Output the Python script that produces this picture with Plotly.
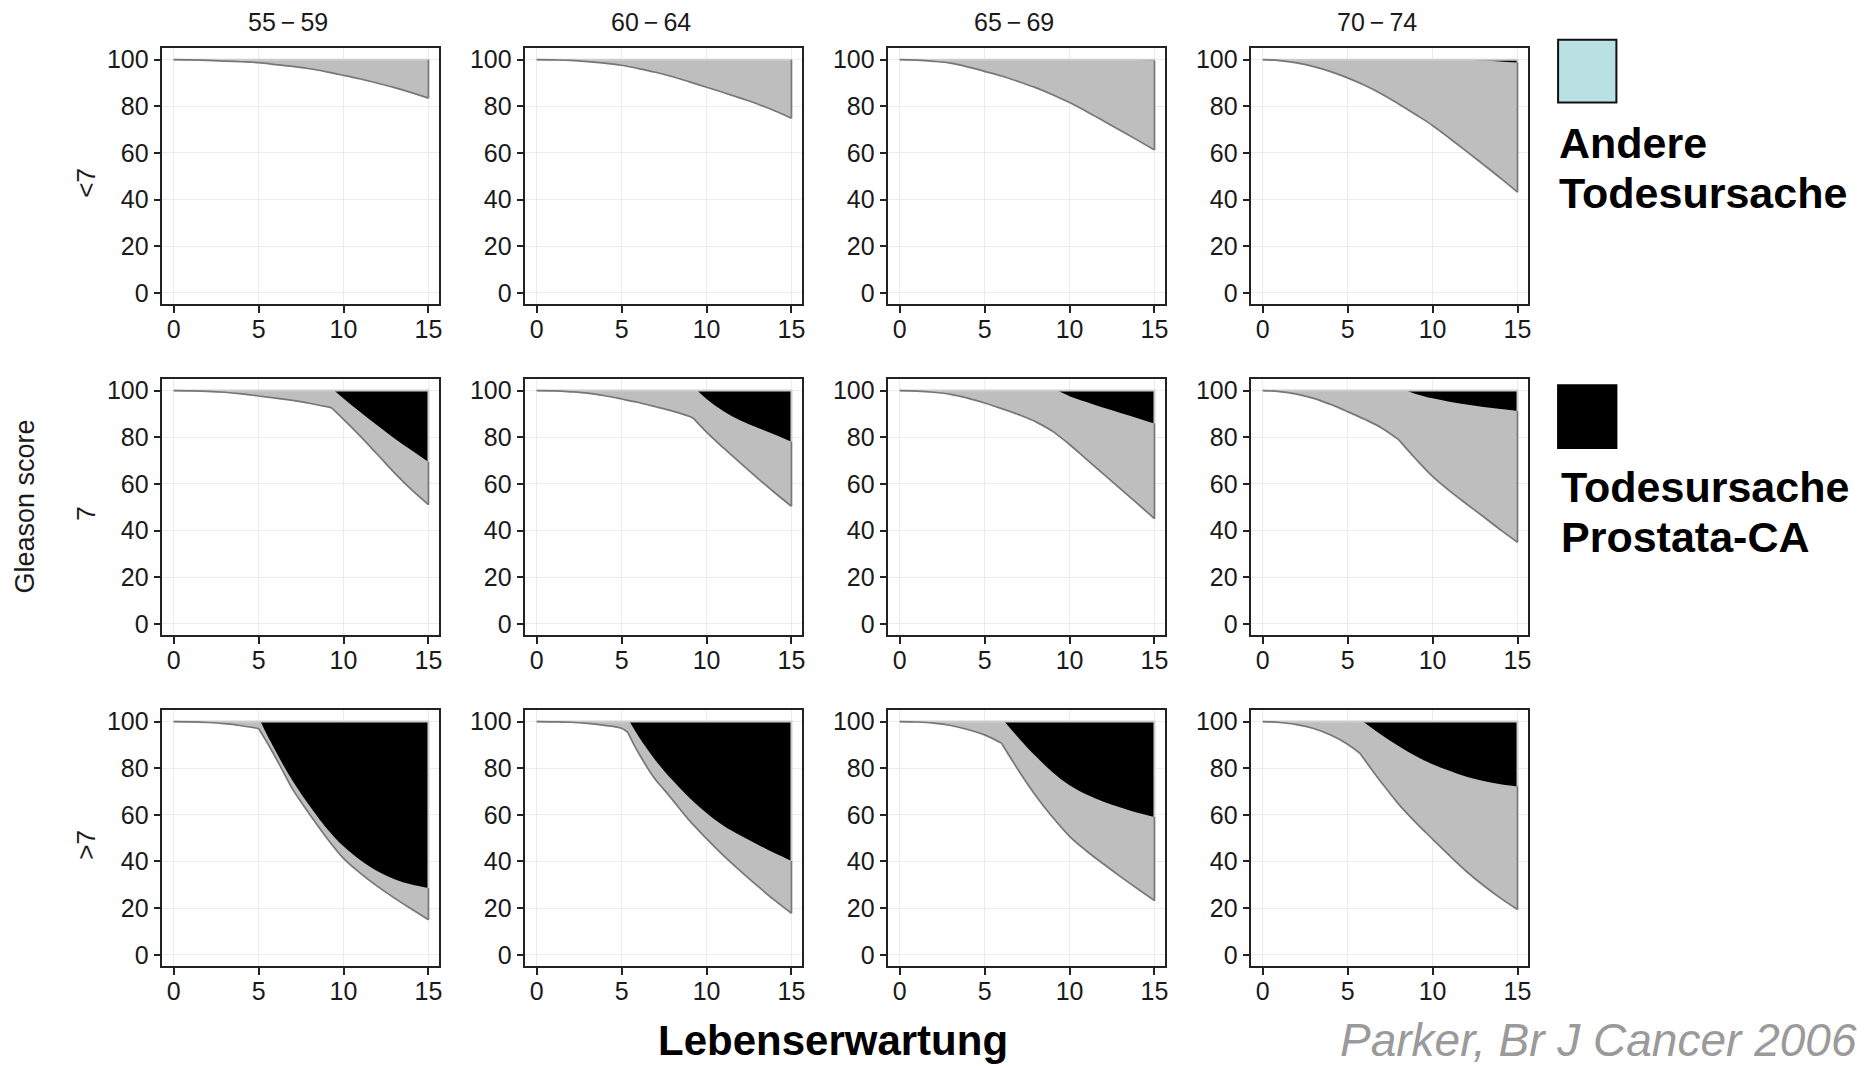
import plotly.graph_objects as go

# ---------------- data ----------------
AGE_GROUPS = ["55\u2009\u2212\u200959", "60\u2009\u2212\u200964", "65\u2009\u2212\u200969", "70\u2009\u2212\u200974"]
GLEASON_GROUPS = ["<7", "7", ">7"]
X_TICKS = [0, 5, 10, 15]
Y_TICKS = [0, 20, 40, 60, 80, 100]
LEGEND_LABELS = ["Andere", "Todesursache", "Todesursache", "Prostata-CA"]
X_TITLE = "Lebenserwartung"
Y_TITLE = "Gleason score"
SOURCE = "Parker, Br J Cancer 2006"

YEARS = [0, 1, 2, 3, 4, 5, 6, 7, 8, 9, 10, 11, 12, 13, 14, 15]

# Gleason <7 : overall survival (%), kink time, prostate-cancer boundary
LT7_55_T = YEARS
LT7_55_S = [100, 99.9, 99.7, 99.4, 99.1, 98.7, 97.9, 97.1, 96.1, 94.8, 93.3, 91.7, 89.9, 88.0, 85.9, 83.5]
LT7_55_K = None
LT7_55_CT = []
LT7_55_C = []

LT7_60_T = YEARS
LT7_60_S = [100, 99.9, 99.7, 99.2, 98.5, 97.6, 96.2, 94.6, 92.7, 90.5, 88.2, 85.9, 83.5, 81.0, 78.1, 74.9]
LT7_60_K = None
LT7_60_CT = []
LT7_60_C = []

LT7_65_T = YEARS
LT7_65_S = [100, 99.8, 99.3, 98.5, 96.9, 95.0, 93.0, 90.6, 88.0, 85.0, 81.6, 77.8, 73.7, 69.6, 65.5, 61.3]
LT7_65_K = None
LT7_65_CT = [13.5, 15]
LT7_65_C = [100, 99.5]

LT7_70_T = YEARS
LT7_70_S = [100, 99.6, 98.6, 97.0, 94.9, 92.2, 89.0, 85.3, 81.0, 76.5, 71.8, 66.3, 60.7, 55.0, 49.2, 43.2]
LT7_70_K = None
LT7_70_CT = [12, 13, 14, 15]
LT7_70_C = [100, 99.6, 99.2, 98.8]

# Gleason 7
G7_55_T = [0, 1, 2, 3, 4, 5, 6, 7, 8, 9, 9.3, 10, 11, 12, 13, 14, 15]
G7_55_S = [100, 99.9, 99.7, 99.3, 98.6, 97.7, 96.8, 95.8, 94.6, 93.1, 92.6, 87.7, 80.4, 72.6, 64.7, 57.5, 51.1]
G7_55_K = 9.3
G7_55_CT = [9.45, 10, 11, 12, 13, 14, 15]
G7_55_C = [100, 96.6, 90.7, 85.0, 79.5, 74.4, 69.4]

G7_60_T = [0, 1, 2, 3, 4, 5, 6, 7, 8, 9, 9.22, 10, 11, 12, 13, 14, 15]
G7_60_S = [100, 99.9, 99.5, 98.9, 97.8, 96.4, 94.9, 93.1, 91.2, 88.9, 88.2, 82.2, 75.4, 68.9, 62.5, 56.3, 50.4]
G7_60_K = 9.22
G7_60_CT = [9.45, 10, 11, 12, 13, 14, 15]
G7_60_C = [100, 96.4, 91.2, 87.2, 84.1, 81.2, 78.1]

G7_65_T = YEARS
G7_65_S = [100, 99.8, 99.3, 98.4, 96.8, 94.7, 92.3, 89.7, 86.7, 82.6, 76.9, 70.5, 64.2, 57.9, 51.5, 45.1]
G7_65_K = 9
G7_65_CT = [9.29, 10, 11, 12, 13, 14, 15]
G7_65_C = [100, 97.6, 95.1, 92.6, 90.4, 88.2, 85.9]

G7_70_T = YEARS
G7_70_S = [100, 99.6, 98.5, 96.7, 94.1, 91.0, 87.7, 84.0, 79.0, 70.8, 63.2, 57.0, 51.4, 45.9, 40.3, 35.0]
G7_70_K = 8
G7_70_CT = [8.45, 9, 10, 11, 12, 13, 14, 15]
G7_70_C = [100, 98.6, 96.7, 95.2, 94.0, 93.0, 92.1, 91.3]

# Gleason >7
GT7_55_T = [0, 1, 2, 3, 4, 5, 5.5, 6, 6.5, 7, 7.5, 8, 9, 10, 11, 12, 13, 14, 15]
GT7_55_S = [100, 99.9, 99.6, 99.1, 98.2, 97.0, 91.0, 84.6, 77.8, 71.0, 65.5, 60.3, 50.2, 41.3, 34.9, 29.3, 24.3, 19.6, 15.0]
GT7_55_K = 5
GT7_55_CT = [5.12, 5.5, 6, 6.5, 7, 7.5, 8, 9, 10, 11, 12, 13, 14, 15]
GT7_55_C = [100, 94.2, 87.4, 80.7, 74.6, 69.0, 63.9, 54.3, 46.5, 40.5, 35.8, 32.4, 30.1, 28.6]

GT7_60_T = [0, 1, 2, 3, 4, 5, 5.37, 6, 7, 7.5, 8, 9, 10, 11, 12, 13, 14, 15]
GT7_60_S = [100, 99.9, 99.7, 99.2, 98.4, 97.1, 95.3, 86.5, 75.0, 70.8, 66.4, 57.5, 49.8, 42.5, 35.9, 29.5, 23.4, 17.8]
GT7_60_K = 5.37
GT7_60_CT = [5.47, 6, 7, 8, 9, 10, 11, 12, 13, 14, 15]
GT7_60_C = [100, 93.6, 83.3, 74.8, 67.2, 60.8, 55.3, 51.1, 47.3, 43.6, 40.2]

GT7_65_T = YEARS
GT7_65_S = [100, 99.8, 99.3, 98.3, 96.6, 94.3, 90.7, 79.0, 68.3, 59.0, 50.8, 44.5, 38.9, 33.5, 28.3, 23.2]
GT7_65_K = 6
GT7_65_CT = [6.16, 7, 8, 9, 10, 11, 12, 13, 14, 15]
GT7_65_C = [100, 93.0, 85.2, 78.3, 72.7, 68.7, 65.6, 63.2, 60.9, 59.1]

GT7_70_T = [0, 1, 2, 3, 4, 5, 5.72, 6, 7, 8, 9, 10, 11, 12, 13, 14, 15]
GT7_70_S = [100, 99.6, 98.7, 97.0, 94.2, 90.3, 86.4, 83.6, 73.8, 64.6, 56.8, 49.6, 42.5, 35.7, 29.7, 24.3, 19.4]
GT7_70_K = 5.72
GT7_70_CT = [5.9, 7, 8, 9, 10, 11, 12, 13, 14, 15]
GT7_70_C = [100, 94.2, 89.5, 85.2, 81.7, 78.9, 76.3, 74.5, 73.1, 72.2]

PANELS = [
    [(LT7_55_T, LT7_55_S, LT7_55_K, LT7_55_CT, LT7_55_C), (LT7_60_T, LT7_60_S, LT7_60_K, LT7_60_CT, LT7_60_C),
     (LT7_65_T, LT7_65_S, LT7_65_K, LT7_65_CT, LT7_65_C), (LT7_70_T, LT7_70_S, LT7_70_K, LT7_70_CT, LT7_70_C)],
    [(G7_55_T, G7_55_S, G7_55_K, G7_55_CT, G7_55_C), (G7_60_T, G7_60_S, G7_60_K, G7_60_CT, G7_60_C),
     (G7_65_T, G7_65_S, G7_65_K, G7_65_CT, G7_65_C), (G7_70_T, G7_70_S, G7_70_K, G7_70_CT, G7_70_C)],
    [(GT7_55_T, GT7_55_S, GT7_55_K, GT7_55_CT, GT7_55_C), (GT7_60_T, GT7_60_S, GT7_60_K, GT7_60_CT, GT7_60_C),
     (GT7_65_T, GT7_65_S, GT7_65_K, GT7_65_CT, GT7_65_C), (GT7_70_T, GT7_70_S, GT7_70_K, GT7_70_CT, GT7_70_C)],
]

# ---------------- layout geometry ----------------
W, H = 1868, 1066
FONT = "Liberation Sans, Arial, Helvetica, sans-serif"
COL_LEFT = [162.7, 526.3, 889.9, 1253.5]
COL_W = 277.0
ROW_TOP = [46.0, 378.5, 711.0]
ROW_H = 257.5
X_RANGE = [-0.66, 15.62]
Y_RANGE = [-4.8, 105.1]

GREY_FILL = "#bebebe"
GREY_LINE = "#777777"
TOP_LINE = "#cdcdcd"


def px(x):
    return x / W


def py(y):
    return 1 - y / H


def segments(T, S, K):
    if K is None:
        return [(list(T), list(S))]
    a = [(t, s) for t, s in zip(T, S) if t <= K]
    b = [(t, s) for t, s in zip(T, S) if t >= K]
    return [([p[0] for p in a], [p[1] for p in a]), ([p[0] for p in b], [p[1] for p in b])]


fig = go.Figure()
layout = {}

for r in range(3):
    for c in range(4):
        n = r * 4 + c + 1
        xa = "x" if n == 1 else f"x{n}"
        ya = "y" if n == 1 else f"y{n}"
        T, S, K, CT, C = PANELS[r][c]
        end_low = C[-1] if C else 100
        segs = segments(T, S, K)

        # grey area underlay (straight polygon, hides seams between smooth pieces)
        fig.add_trace(go.Scatter(
            x=list(T) + [T[-1], T[0]], y=list(S) + [100, 100],
            fill="toself", fillcolor=GREY_FILL, mode="lines",
            line=dict(width=0, color=GREY_FILL), hoverinfo="skip",
            showlegend=False, xaxis=xa, yaxis=ya))
        # grey area (other causes): smooth pieces between 100 and overall survival
        for st, ss in segs:
            fig.add_trace(go.Scatter(
                x=st, y=[100] * len(st), mode="lines", line=dict(width=0, color=GREY_FILL),
                hoverinfo="skip", showlegend=False, xaxis=xa, yaxis=ya))
            fig.add_trace(go.Scatter(
                x=st, y=ss, mode="lines", fill="tonexty", fillcolor=GREY_FILL,
                line=dict(width=0, color=GREY_FILL, shape="spline", smoothing=1),
                hoverinfo="skip", showlegend=False, xaxis=xa, yaxis=ya))
        # black area (prostate cancer deaths)
        if C:
            fig.add_trace(go.Scatter(
                x=CT, y=[100] * len(CT), mode="lines", line=dict(width=0, color="#000000"),
                hoverinfo="skip", showlegend=False, xaxis=xa, yaxis=ya))
            fig.add_trace(go.Scatter(
                x=CT, y=C, mode="lines", fill="tonexty", fillcolor="#000000",
                line=dict(width=0, color="#000000", shape="spline", smoothing=1),
                hoverinfo="skip", showlegend=False, xaxis=xa, yaxis=ya))
        # light outline along 100 and the right edge of the black area
        fig.add_trace(go.Scatter(
            x=[T[0], T[-1], T[-1]], y=[100, 100, end_low],
            mode="lines", line=dict(width=2, color=TOP_LINE),
            hoverinfo="skip", showlegend=False, xaxis=xa, yaxis=ya))
        # survival curve outline (smooth pieces) + right edge
        for st, ss in segs:
            fig.add_trace(go.Scatter(
                x=st, y=ss, mode="lines",
                line=dict(width=1.7, color=GREY_LINE, shape="spline", smoothing=1),
                hoverinfo="skip", showlegend=False, xaxis=xa, yaxis=ya))
        fig.add_trace(go.Scatter(
            x=[T[-1], T[-1]], y=[S[-1], end_low], mode="lines",
            line=dict(width=1.7, color=GREY_LINE),
            hoverinfo="skip", showlegend=False, xaxis=xa, yaxis=ya))

        x0 = COL_LEFT[c]
        y0 = ROW_TOP[r]
        axis_common = dict(
            showline=True, mirror=True, linecolor="#222222", linewidth=1.6,
            ticks="outside", ticklen=7, tickwidth=1.5, tickcolor="#222222",
            showgrid=True, gridcolor="#ececec", gridwidth=1, zeroline=False,
            tickfont=dict(family=FONT, size=25, color="#1a1a1a"),
            fixedrange=True,
        )
        layout["xaxis" if n == 1 else f"xaxis{n}"] = dict(
            domain=[px(x0), px(x0 + COL_W)], anchor=ya, range=X_RANGE,
            tickvals=X_TICKS, ticktext=[str(v) for v in X_TICKS],
            ticklabelstandoff=-5, **axis_common)
        layout["yaxis" if n == 1 else f"yaxis{n}"] = dict(
            domain=[py(y0 + ROW_H), py(y0)], anchor=xa, range=Y_RANGE,
            tickvals=Y_TICKS, ticktext=[str(v) for v in Y_TICKS], **axis_common)

annotations = []
# column titles
for c, lab in enumerate(AGE_GROUPS):
    annotations.append(dict(
        text=lab, x=px(COL_LEFT[c] + COL_W / 2 - 13), y=py(20.5),
        xref="paper", yref="paper", showarrow=False, xanchor="center", yanchor="middle",
        font=dict(family=FONT, size=25, color="#1a1a1a")))
# row labels
for r, lab in enumerate(GLEASON_GROUPS):
    annotations.append(dict(
        text=lab, x=px(86), y=py(ROW_TOP[r] + ROW_H / 2 + 7), textangle=-90,
        xref="paper", yref="paper", showarrow=False, xanchor="center", yanchor="middle",
        font=dict(family=FONT, size=26, color="#1a1a1a")))
annotations.append(dict(
    text=Y_TITLE, x=px(25), y=py(507), textangle=-90,
    xref="paper", yref="paper", showarrow=False, xanchor="center", yanchor="middle",
    font=dict(family=FONT, size=27, color="#1a1a1a")))
annotations.append(dict(
    text=X_TITLE, x=px(834), y=py(1043),
    xref="paper", yref="paper", showarrow=False, xanchor="center", yanchor="middle",
    font=dict(family=FONT, size=42, color="#000000", weight="bold")))
annotations.append(dict(
    text=SOURCE, x=px(1862), y=py(1043),
    xref="paper", yref="paper", showarrow=False, xanchor="right", yanchor="middle",
    font=dict(family=FONT, size=46, color="#9a9a9a", style="italic")))
# legend texts
for lab, ycen, xl in zip(LEGEND_LABELS, [142, 192, 487, 538], [1560, 1560, 1562, 1562]):
    annotations.append(dict(
        text=lab, x=px(xl), y=py(ycen),
        xref="paper", yref="paper", showarrow=False, xanchor="left", yanchor="middle",
        font=dict(family=FONT, size=43, color="#000000", weight="bold")))

shapes = [
    dict(type="rect", xref="paper", yref="paper",
         x0=px(1560.6), x1=px(1619), y0=py(101), y1=py(38),
         fillcolor="#b9e0e3", line=dict(color="#111111", width=2)),
    dict(type="rect", xref="paper", yref="paper",
         x0=px(1560.6), x1=px(1619), y0=py(448), y1=py(385),
         fillcolor="#000000", line=dict(color="#000000", width=2)),
]

fig.update_layout(
    width=W, height=H,
    margin=dict(l=0, r=0, t=0, b=0),
    paper_bgcolor="white", plot_bgcolor="white",
    showlegend=False,
    annotations=annotations, shapes=shapes,
    **layout,
)

fig.write_html("out.html", config={"displayModeBar": False})
